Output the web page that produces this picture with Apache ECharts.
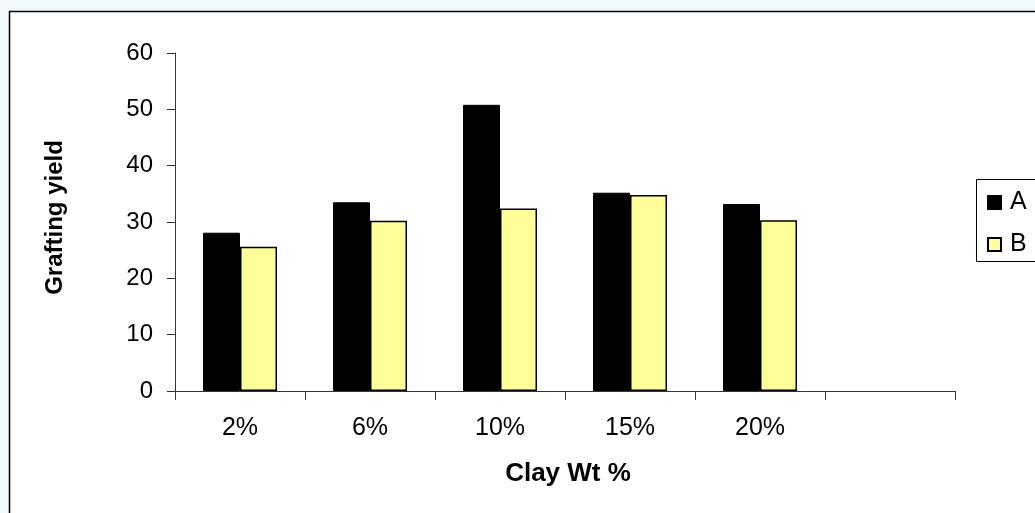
<!DOCTYPE html>
<html>
<head>
<meta charset="utf-8">
<script src="https://cdn.jsdelivr.net/npm/echarts@6/dist/echarts.min.js"></script>
<style>
  html, body { margin: 0; padding: 0; overflow: hidden; }
  #chart { width: 1035px; height: 513px; }
</style>
</head>
<body>
<div id="chart"></div>
<script>
// Grafting yield by clay loading
const categories = ['2%', '6%', '10%', '15%', '20%', ''];
const seriesA = [28.1, 33.5, 50.8, 35.2, 33.2, null];
const seriesB = [25.6, 30.2, 32.4, 34.8, 30.3, null];
const yTicks = [0, 10, 20, 30, 40, 50, 60];

const FONT = 'Arial, "Liberation Sans", sans-serif';
const AXIS_COLOR = '#333';

const chart = echarts.init(document.getElementById('chart'), null, { renderer: 'canvas' });

chart.setOption({
  backgroundColor: '#f3f8fd',
  animation: false,
  textStyle: { fontFamily: FONT, color: '#000' },
  graphic: [
    {
      // white chart area
      type: 'rect',
      z: -11,
      shape: { x: 10, y: 12, width: 1100, height: 600 },
      style: { fill: '#fff' }
    },
    {
      // outer chart frame: left and top edges
      type: 'polyline',
      z: -10,
      shape: { points: [[9.5, 600], [9.5, 11.5], [1100, 11.5]] },
      style: { fill: null, stroke: '#000', lineWidth: 1.5 }
    },
    {
      // legend frame: left, top and bottom edges
      type: 'line',
      z: -5,
      shape: { x1: 976.5, y1: 179.5, x2: 1100, y2: 179.5 },
      style: { stroke: '#000', lineWidth: 1 }
    },
    {
      type: 'line',
      z: -5,
      shape: { x1: 976.5, y1: 179.5, x2: 976.5, y2: 261.5 },
      style: { stroke: '#000', lineWidth: 1 }
    },
    {
      type: 'line',
      z: -5,
      shape: { x1: 976.5, y1: 261.5, x2: 1100, y2: 261.5 },
      style: { stroke: '#000', lineWidth: 1 }
    }
  ],
  grid: { left: 175, right: 80, top: 53, bottom: 122, containLabel: false },
  legend: {
    orient: 'vertical',
    left: 976,
    top: 179,
    padding: [11, 5, 6, 11],
    itemWidth: 13,
    itemHeight: 13,
    itemGap: 17,
    icon: 'rect',
    borderWidth: 0,
    textStyle: { fontFamily: FONT, fontSize: 25, lineHeight: 25, color: '#000', padding: [0, 0, 0, 4] },
    data: ['A', 'B']
  },
  xAxis: {
    type: 'category',
    data: categories,
    boundaryGap: true,
    name: 'Clay Wt %',
    nameLocation: 'middle',
    nameGap: 70,
    nameTextStyle: { fontFamily: FONT, fontSize: 26, fontWeight: 'bold', color: '#000', padding: [0, 0, 0, 6] },
    axisLine: { show: true, lineStyle: { color: AXIS_COLOR, width: 1 } },
    axisTick: { show: true, alignWithLabel: false, length: 9, lineStyle: { color: AXIS_COLOR } },
    axisLabel: { fontFamily: FONT, fontSize: 25, color: '#000', margin: 25 },
    splitLine: { show: false }
  },
  yAxis: {
    type: 'value',
    min: yTicks[0],
    max: yTicks[yTicks.length - 1],
    interval: 10,
    name: 'Grafting yield',
    nameLocation: 'middle',
    nameGap: 108,
    nameRotate: 90,
    nameTextStyle: { fontFamily: FONT, fontSize: 24, fontWeight: 'bold', color: '#000', padding: [0, 0, 0, 9] },
    axisLine: { show: true, lineStyle: { color: AXIS_COLOR, width: 1 } },
    axisTick: { show: true, length: 8, lineStyle: { color: AXIS_COLOR } },
    axisLabel: { fontFamily: FONT, fontSize: 24, color: '#000', margin: 22 },
    splitLine: { show: false }
  },
  series: [
    {
      name: 'A',
      type: 'bar',
      data: seriesA,
      barWidth: 37,
      barGap: '0%',
      itemStyle: { color: '#000', borderColor: '#000', borderWidth: 1 }
    },
    {
      name: 'B',
      type: 'bar',
      data: seriesB,
      barWidth: 37,
      barGap: '0%',
      itemStyle: { color: '#ffff99', borderColor: '#000', borderWidth: 1.5 }
    }
  ]
});
</script>
</body>
</html>
